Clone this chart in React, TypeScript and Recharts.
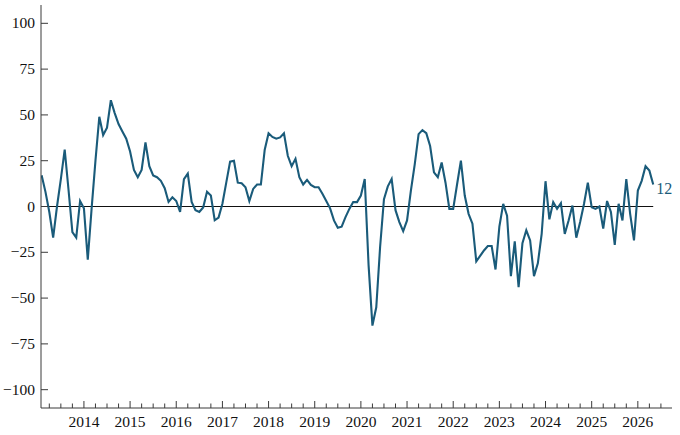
import { ComposedChart, Line, Scatter, XAxis, YAxis, ReferenceLine } from 'recharts';

// monthly readings, one array per calendar year (2013 starts in February)
const y2013 = [17, 8, -3, -17, 0, 15, 31, 9, -14, -17, 3];
const y2014 = [-1, -29, -1, 25, 49, 39, 43, 58, 51, 45, 41, 37];
const y2015 = [30, 20, 16, 20, 35, 22, 17, 16, 14, 10, 2.5, 5];
const y2016 = [3, -3, 15, 18, 2.5, -2, -3, -0.5, 8, 6, -7.5, -6];
const y2017 = [1.5, 13, 24.5, 25, 13, 12.7, 10.5, 3, 9.6, 12, 12, 31];
const y2018 = [40, 38, 37, 37.7, 40, 27.7, 22, 26, 16, 12, 14.5, 11.8];
const y2019 = [10.5, 10.5, 7, 3, -1, -7.6, -11.6, -11, -5.8, -1.3, 2.4, 2.4];
const y2020 = [6, 15, -32, -65, -55, -22, 4, 11, 15, -2, -8.5, -13.4];
const y2021 = [-7.6, 8.7, 23, 39.5, 41.7, 40, 33, 18.6, 16, 24, 13, -1.3];
const y2022 = [-1.3, 12, 25, 6, -4, -9.4, -30, -27, -24, -21.6, -21.6, -34.4];
const y2023 = [-11, 1.4, -5, -38, -19, -44, -20, -13, -18.5, -38, -31, -15];
const y2024 = [13.8, -7, 2.4, -1.3, 1.8, -15, -7.6, 0.5, -17, -8.5, 1.4, 13];
const y2025 = [-0.4, -1.3, 0, -12, 3, -3, -21, 1.5, -7.6, 15, -4, -18.5];
const y2026 = [8.7, 14, 22, 19.6, 12];

const years = [2013, 2014, 2015, 2016, 2017, 2018, 2019, 2020, 2021, 2022, 2023, 2024, 2025, 2026];
const series = [y2013, y2014, y2015, y2016, y2017, y2018, y2019, y2020, y2021, y2022, y2023, y2024, y2025, y2026];
const firstMonthOffset = 1; // February

const yTicks = [-100, -75, -50, -25, 0, 25, 50, 75, 100];

const data = series.flatMap((vals, k) =>
  vals.map((v, i) => ({ t: years[k] + (i + (k === 0 ? firstMonthOffset : 0)) / 12, v }))
);
const first = data[0];
const last = data[data.length - 1];

const quarterTicks: number[] = [];
for (let q = 2013.25; q <= 2026.5 + 1e-9; q += 0.25) quarterTicks.push(Math.round(q * 100) / 100);

const FONT = '"Liberation Serif", "DejaVu Serif", serif';
const INK = '#111';
const AXIS = '#3a3a3a';
const LINE = '#1a5b7a';

const XTick = ({ x, y, payload }: any) => {
  const isYear = Math.abs(payload.value - Math.round(payload.value)) < 1e-6;
  return (
    <g>
      <line x1={x} x2={x} y1={y} y2={y - (isYear ? 7 : 4.5)} stroke={AXIS} />
      {isYear && (
        <text x={x} y={y + 19} textAnchor="middle" fill={INK} fontFamily={FONT} fontSize={15.5}>
          {payload.value}
        </text>
      )}
    </g>
  );
};

const YTick = ({ x, y, payload }: any) => {
  const v = payload.value;
  return (
    <g>
      <line x1={x} x2={x + 7} y1={y} y2={y} stroke={AXIS} />
      <text x={x - 6} y={y + 5} textAnchor="end" fill={INK} fontFamily={FONT} fontSize={15.5}>
        {v < 0 ? `\u2212${-v}` : `${v}`}
      </text>
    </g>
  );
};

const EndLabel = ({ cx, cy }: any) => (
  <text x={cx + 3} y={cy + 9} fill={LINE} fontFamily={FONT} fontSize={16}>
    {String(last.v)}
  </text>
);

export default function App() {
  return (
    <div style={{ position: 'absolute', left: 0, top: 0, width: 680, height: 435, background: '#fff' }}>
      <ComposedChart width={680} height={435} data={data} margin={{ top: 5, right: 8, left: 0, bottom: 0 }}>
        <XAxis
          type="number"
          dataKey="t"
          domain={[2013.07, 2026.74]}
          ticks={quarterTicks}
          interval={0}
          tick={<XTick />}
          tickLine={false}
          tickSize={0}
          tickMargin={0}
          height={27}
          axisLine={{ stroke: AXIS }}
          allowDataOverflow
        />
        <YAxis
          type="number"
          domain={[-110, 110]}
          ticks={yTicks}
          interval={0}
          tick={<YTick />}
          tickLine={false}
          tickSize={0}
          tickMargin={0}
          width={41}
          axisLine={{ stroke: AXIS }}
          allowDataOverflow
        />
        <ReferenceLine
          segment={[{ x: first.t, y: 0 }, { x: last.t, y: 0 }]}
          stroke={INK}
          strokeWidth={1}
        />
        <Line type="linear" dataKey="v" stroke={LINE} strokeWidth={2.1} dot={false} isAnimationActive={false} />
        <Scatter data={[last]} dataKey="v" shape={<EndLabel />} isAnimationActive={false} />
      </ComposedChart>
    </div>
  );
}
